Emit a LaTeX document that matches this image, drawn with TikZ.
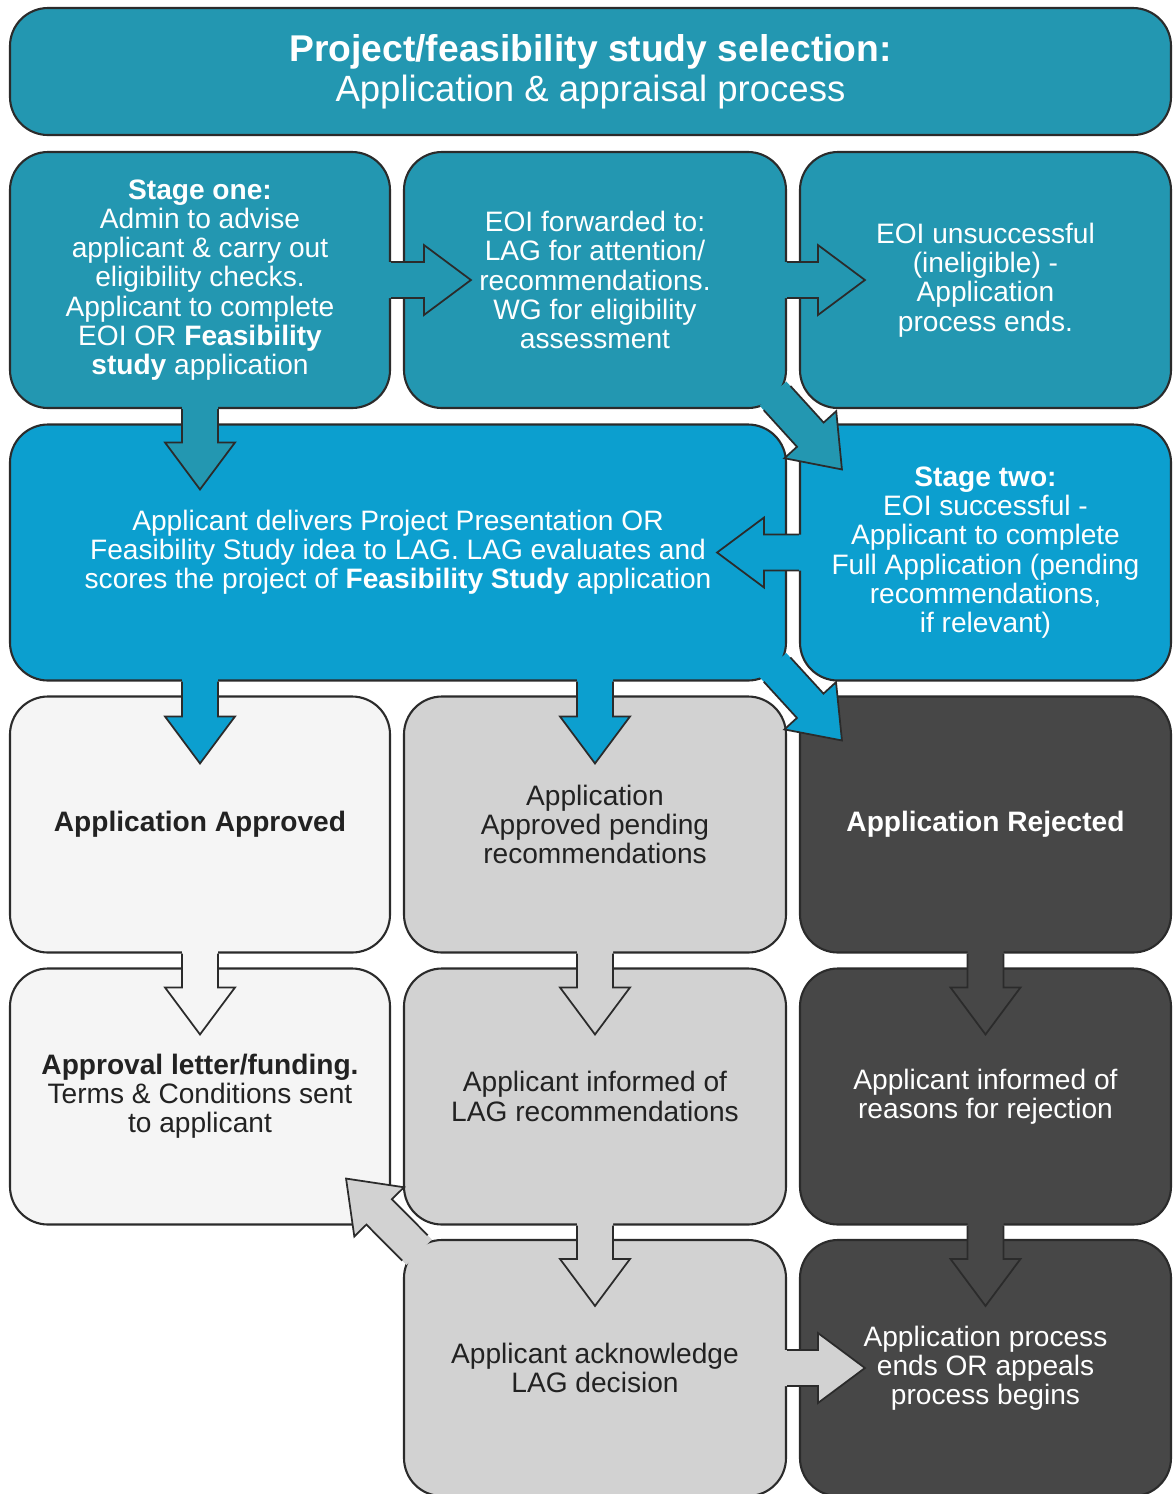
\documentclass[tikz,border=0pt]{standalone}
\usepackage{fontspec}
\setmainfont{Liberation Sans}
\usetikzlibrary{calc}
\definecolor{teal1}{HTML}{2397B1}
\definecolor{blue1}{HTML}{0C9FCF}
\definecolor{grey1}{HTML}{F5F5F5}
\definecolor{grey2}{HTML}{D2D2D2}
\definecolor{grey3}{HTML}{474747}
\definecolor{edge}{HTML}{2B2B2B}
\definecolor{ink}{HTML}{222222}
\newcommand{\barrow}[3]{%
\coordinate (a) at (#2); \coordinate (b) at (#3);
\coordinate (n) at ($(b)!0.47cm!(a)$);
\coordinate (t) at ($(a)!-0.06cm!(b)$);
\fill[#1] ($(t)!0.18cm!90:(b)$)--($(n)!0.18cm!90:(b)$)--($(n)!0.35cm!90:(b)$)--(b)--($(n)!0.35cm!-90:(b)$)--($(n)!0.18cm!-90:(b)$)--($(t)!0.18cm!-90:(b)$)--cycle;
\draw[edge,line width=0.5pt,line join=miter] ($(a)!0.18cm!90:(b)$)--($(n)!0.18cm!90:(b)$)--($(n)!0.35cm!90:(b)$)--(b)--($(n)!0.35cm!-90:(b)$)--($(n)!0.18cm!-90:(b)$)--($(a)!0.18cm!-90:(b)$);}
\begin{document}
\begin{tikzpicture}[cell/.style={draw=edge,line width=0.6pt,rounded corners=0.38cm,inner sep=0pt,align=center,font=\fontsize{8}{8.3}\selectfont,text=white,minimum height=2.56cm},
col1/.style={cell,minimum width=3.80cm},col2/.style={cell,minimum width=3.82cm},col3/.style={cell,minimum width=3.71cm}]
\useasboundingbox (0,0) rectangle (11.74,-14.94);
\node[cell,fill=teal1,minimum width=11.61cm,minimum height=1.27cm,font=\fontsize{10.4}{11.4}\selectfont] (title) at (5.905,-0.715) {{\fontsize{10.6}{11.4}\selectfont\bfseries Project/feasibility study selection:}\\Application \& appraisal process};
\node[col1,fill=teal1] (one) at (2.00,-2.80) {\textbf{Stage one:}\\Admin to advise\\applicant \& carry out\\eligibility checks.\\Applicant to complete\\EOI OR \textbf{Feasibility}\\\textbf{study} application};
\node[col2,fill=teal1] (fwd) at (5.95,-2.80) {EOI forwarded to:\\LAG for attention/\\recommendations.\\WG for eligibility\\assessment};
\node[col3,fill=teal1] (fail) at (9.855,-2.80) {EOI unsuccessful\\(ineligible) -\\Application\\process ends.};
\node[cell,fill=blue1,minimum width=7.76cm] (pres) at (3.98,-5.525) {Applicant delivers Project Presentation OR\\Feasibility Study idea to LAG. LAG evaluates and\\scores the project of \textbf{Feasibility Study} application};
\node[col3,fill=blue1] (two) at (9.855,-5.525) {\textbf{Stage two:}\\EOI successful -\\Applicant to complete\\Full Application (pending\\recommendations,\\if relevant)};
\node[col1,fill=grey1,text=ink] (ok) at (2.00,-8.245) {\textbf{Application Approved}};
\node[col2,fill=grey2,text=ink] (pend) at (5.95,-8.245) {Application\\Approved pending\\recommendations};
\node[col3,fill=grey3] (rej) at (9.855,-8.245) {\textbf{Application Rejected}};
\node[col1,fill=grey1,text=ink] (letter) at (2.00,-10.965) {\textbf{Approval letter/funding.}\\Terms \& Conditions sent\\to applicant};
\node[col2,fill=grey2,text=ink] (info) at (5.95,-10.965) {Applicant informed of\\LAG recommendations};
\node[col3,fill=grey3] (why) at (9.855,-10.965) {Applicant informed of\\reasons for rejection};
\node[col2,fill=grey2,text=ink] (ack) at (5.95,-13.68) {Applicant acknowledge\\LAG decision};
\node[col3,fill=grey3] (appeal) at (9.855,-13.68) {Application process\\ends OR appeals\\process begins};
\barrow{teal1}{one.east}{$(fwd.west)+(0.68,0)$}
\barrow{teal1}{fwd.east}{$(fail.west)+(0.66,0)$}
\barrow{teal1}{$(fwd.south east)+(-0.10,0.11)$}{$(two.north west)+(0.43,-0.46)$}
\barrow{teal1}{one.south}{$(one.south|-pres.north)+(0,-0.66)$}
\barrow{blue1}{two.west}{$(pres.east|-two.west)+(-0.70,0)$}
\barrow{blue1}{pres.south-|ok.north}{$(ok.north)+(0,-0.68)$}
\barrow{blue1}{pres.south-|pend.north}{$(pend.north)+(0,-0.68)$}
\barrow{blue1}{$(pres.south east)+(-0.10,0.12)$}{$(rej.north west)+(0.43,-0.45)$}
\barrow{grey1}{ok.south}{$(letter.north)+(0,-0.67)$}
\barrow{grey2}{pend.south}{$(info.north)+(0,-0.67)$}
\barrow{grey3}{rej.south}{$(why.north)+(0,-0.67)$}
\barrow{grey2}{info.south}{$(ack.north)+(0,-0.67)$}
\barrow{grey3}{why.south}{$(appeal.north)+(0,-0.67)$}
\barrow{grey2}{ack.east}{$(appeal.west)+(0.66,0)$}
\barrow{grey2}{$(ack.north west)+(0.12,-0.09)$}{$(letter.south east)+(-0.45,0.47)$}
\end{tikzpicture}
\end{document}
